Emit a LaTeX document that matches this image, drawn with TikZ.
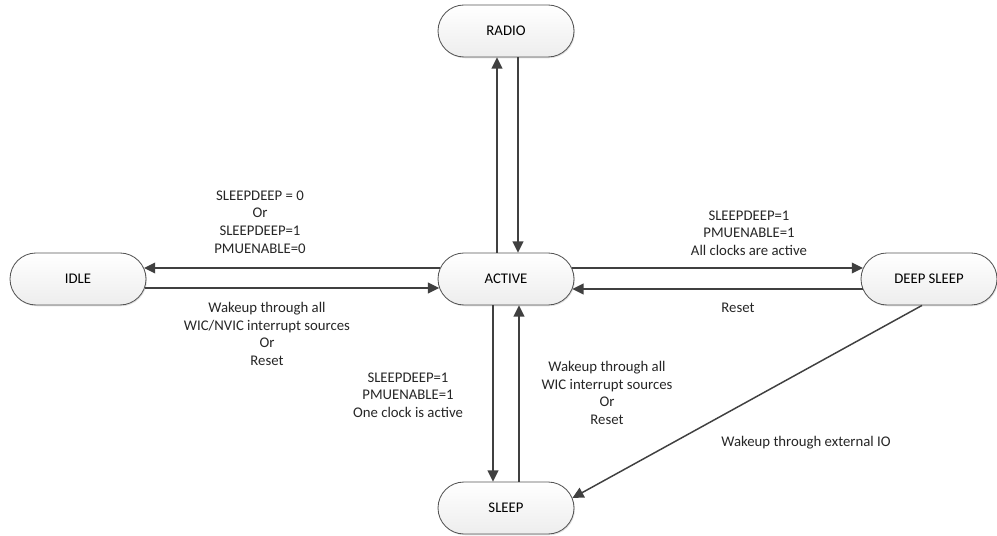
\documentclass[tikz,border=0pt]{standalone}
\usepackage{fontspec}
\setmainfont{Carlito}
\usetikzlibrary{arrows.meta,shadows}

\definecolor{lineclr}{HTML}{404040}
\definecolor{edgeclr}{HTML}{555555}

\begin{document}
\begin{tikzpicture}[x=0.25mm,y=-0.25mm,
    state/.style={draw=edgeclr,line width=0.6pt,rounded corners=6.5mm,
      minimum width=34mm,minimum height=13mm,top color=white,bottom color=gray!14,
      drop shadow={shadow xshift=0.7pt,shadow yshift=-0.9pt,opacity=0.22},
      font=\fontsize{10.5}{12.5}\selectfont},
    trans/.style={draw=lineclr,line width=1.05pt,-{Triangle[length=2.8mm,width=2.7mm]}},
    cond/.style={align=center,text=black!85,font=\fontsize{10.5}{12.5}\selectfont}]
  \useasboundingbox (0,0) rectangle (997,536);

  % states
  \node[state] (radio) at (506,31)  {RADIO};
  \node[state] (idle)  at (78,279)  {IDLE};
  \node[state] (active) at (506,279) {ACTIVE};
  \node[state] (deep)  at (929,279) {DEEP SLEEP};
  \node[state] (sleep) at (506,508) {SLEEP};

  % transitions to and from RADIO
  \draw[trans] ([shift={(-9,0)}]active.north) -- ([shift={(-9,0)}]radio.south);
  \draw[trans] ([shift={(12,0)}]radio.south) -- ([shift={(12,0)}]active.north);

  % idle
  \draw[trans] ([shift={(2.4,-11)}]active.west) -- ([shift={(-2.4,-11)}]idle.east);
  \draw[trans] ([shift={(-1.6,9)}]idle.east) -- ([shift={(1.6,9)}]active.west);

  % deep sleep
  \draw[trans] ([shift={(-2.4,-11)}]active.east) -- ([shift={(2.4,-11)}]deep.west);
  \draw[trans] ([shift={(2,10)}]deep.west) -- ([shift={(-2,10)}]active.east);

  % sleep
  \draw[trans] ([shift={(-13,0)}]active.south) -- ([shift={(-13,0)}]sleep.north);
  \draw[trans] ([shift={(13,0)}]sleep.north) -- ([shift={(13,0)}]active.south);
  \draw[trans] ([shift={(-7,0)}]deep.south) -- ([shift={(-2,-10)}]sleep.east);

  % conditions
  \node[cond] (toidle) at (260,222) {SLEEPDEEP = 0\\Or\\SLEEPDEEP=1\\PMUENABLE=0};
  \node[cond] (fromidle) at (267,334) {Wakeup through all\\WIC/NVIC interrupt sources\\Or\\Reset};
  \node[cond] (todeep) at (749,233) {SLEEPDEEP=1\\PMUENABLE=1\\All clocks are active};
  \node[cond] (fromdeep) at (738,308) {Reset};
  \node[cond] (tosleep) at (408,395) {SLEEPDEEP=1\\PMUENABLE=1\\One clock is active};
  \node[cond] (fromsleep) at (607,393) {Wakeup through all\\WIC interrupt sources\\Or\\Reset};
  \node[cond] (extio) at (806,443) {Wakeup through external IO};
\end{tikzpicture}
\end{document}
